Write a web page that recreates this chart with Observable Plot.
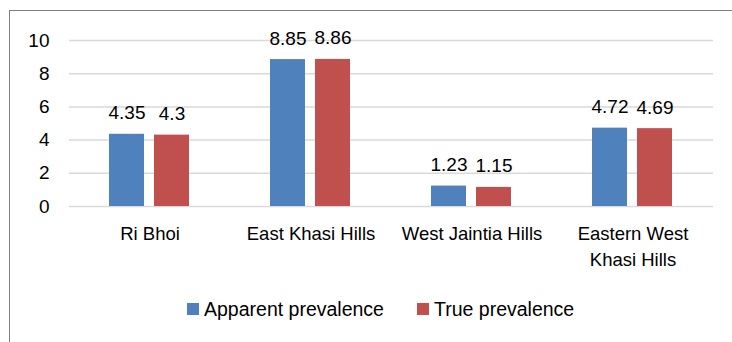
<!DOCTYPE html>
<html>
<head>
<meta charset="utf-8">
<script src="https://cdn.jsdelivr.net/npm/d3@7"></script>
<script src="https://cdn.jsdelivr.net/npm/@observablehq/plot@0.6"></script>
<style>
  html, body { margin: 0; padding: 0; background: #fff; }
  body { width: 732px; height: 342px; position: relative; overflow: hidden; font-family: "Liberation Sans", sans-serif; }
  #frame { position: absolute; left: 9px; top: 10px; width: 800px; height: 400px;
           border-top: 1px solid #808080; border-left: 1px solid #808080; pointer-events: none; }
  #chart { position: absolute; left: 0; top: 0; }
  .leg { position: absolute; top: 297px; display: flex; align-items: center; font-size: 19.5px; color: #000; line-height: 24px; }
  .sw { width: 12px; height: 12px; margin-right: 5px; }
</style>
</head>
<body>
<div id="chart"></div>
<div id="frame"></div>
<div class="leg" style="left:187px"><span class="sw" style="background:#4F81BD"></span><span id="l1"></span></div>
<div class="leg" style="left:417px"><span class="sw" style="background:#C0504D"></span><span id="l2"></span></div>
<script>
const categories = ["Ri Bhoi", "East Khasi Hills", "West Jaintia Hills", "Eastern West Khasi Hills"];
const categoryLabels = ["Ri Bhoi", "East Khasi Hills", "West Jaintia Hills", "Eastern West\nKhasi Hills"];
const series = ["Apparent prevalence", "True prevalence"];
const apparentPrevalence = [4.35, 8.85, 1.23, 4.72];
const truePrevalence = [4.3, 8.86, 1.15, 4.69];
const yTicks = [0, 2, 4, 6, 8, 10];
const colors = ["#4F81BD", "#C0504D"];

const data = [];
categories.forEach((c, i) => {
  data.push({category: c, series: series[0], value: apparentPrevalence[i]});
  data.push({category: c, series: series[1], value: truePrevalence[i]});
});
const labelOf = new Map(categories.map((c, i) => [c, categoryLabels[i]]));

const chart = Plot.plot({
  width: 732,
  height: 280,
  marginLeft: 68,
  marginRight: 19,
  marginTop: 40,
  marginBottom: 74,
  style: {fontFamily: "'Liberation Sans', sans-serif", fontSize: "18.5px", color: "#000", background: "transparent"},
  fx: {domain: categories, padding: 0, label: null},
  x: {domain: series, paddingInner: 0.217, paddingOuter: 0.861, axis: null},
  y: {domain: [0, 10], label: null},
  color: {domain: series, range: colors},
  marks: [
    Plot.gridY(yTicks, {stroke: "#d9d9d9", strokeOpacity: 1, strokeWidth: 1.5}),
    Plot.axisY(yTicks, {tickSize: 0, tickPadding: 20, label: null, fontSize: 19, fill: "#000"}),
    Plot.axisFx({anchor: "bottom", tickSize: 0, tickPadding: 16, label: null, fontSize: 18.5, lineHeight: 1.36,
                 fill: "#000", tickFormat: d => labelOf.get(d)}),
    Plot.barY(data, {fx: "category", x: "series", y: "value", fill: "series"}),
    Plot.text(data, {fx: "category", x: "series", y: "value", text: d => String(d.value),
                     lineAnchor: "bottom", dy: -15, fontSize: 19, fill: "#000"})
  ]
});
document.getElementById("chart").appendChild(chart);
document.getElementById("l1").textContent = series[0];
document.getElementById("l2").textContent = series[1];
</script>
</body>
</html>
